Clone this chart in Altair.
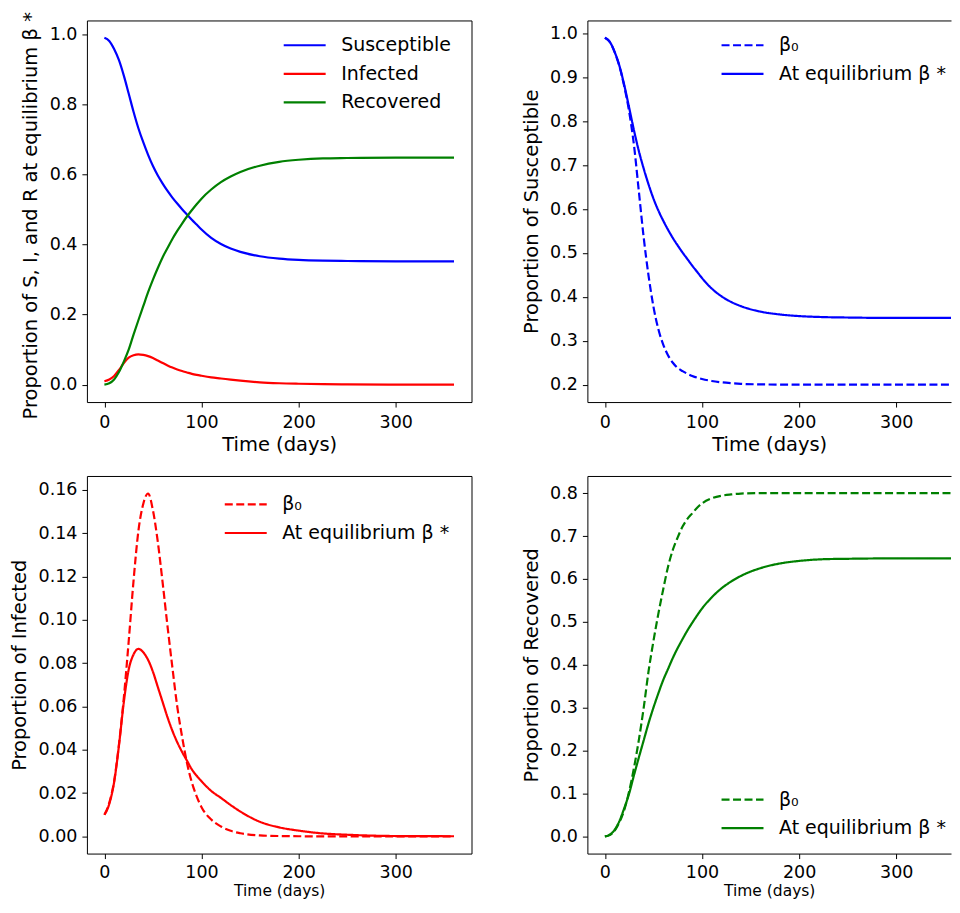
import altair as alt
import pandas as pd

FONT = "DejaVu Sans"
BLUE, RED, GREEN = "#0000ff", "#ff0000", "#008000"
LW = 2.2

# ---------------- data ----------------
t = [0, 5, 10, 15, 20, 25, 30, 35, 40, 45, 50, 55, 60, 65, 70, 75, 80, 85, 90, 95, 100,
     110, 120, 130, 140, 160, 180, 200, 225, 250, 300, 360]

s_eq = [.990, .981, .958, .926, .882, .831, .779, .732, .692, .656, .624, .597, .574, .553, .534,
        .517, .501, .486, .471, .457, .443, .419, .4015, .3885, .379, .3666, .360, .3563, .354,
        .353, .352, .352]
s_b0 = [.990, .981, .958, .925, .879, .822, .745, .640, .535, .448, .378, .327, .292, .267, .250,
        .238, .231, .225, .220, .216, .213, .2085, .2055, .2035, .202, .2008, .2003, .200, .200,
        .200, .200, .200]
i_eq = [.0100, .0150, .0250, .0420, .0620, .0770, .0840, .0866, .0850, .0815, .0760, .0690, .0620,
        .0550, .0488, .0435, .0390, .0350, .0310, .0280, .0255, .0210, .0178, .0145, .0115, .0068,
        .0042, .0027, .0014, .0008, .0002, .0001]
i_b0 = [.0100, .0155, .0255, .0425, .0640, .0900, .1180, .1410, .1535, .1583, .1505, .1360, .1170,
        .0970, .0780, .0600, .0460, .0340, .0250, .0185, .0135, .0078, .0046, .0026, .0015, .0005,
        .0002, .0001, 0.0, 0.0, 0.0, 0.0]
r_eq = [0.0, .004, .015, .036, .066, .100, .143, .184, .224, .264, .300, .333, .364, .390, .416,
        .439, .460, .480, .498, .515, .531, .557, .578, .594, .607, .625, .636, .642, .646, .647,
        .648, .648]
r_b0 = [0.0, .003, .013, .033, .062, .105, .160, .225, .300, .385, .455, .518, .575, .628, .668,
        .697, .722, .740, .753, .766, .776, .788, .794, .797, .799, .800, .800, .800, .800, .800,
        .800, .800]

sir_names = ["Susceptible", "Infected", "Recovered"]
LBL_B0 = "β₀"
LBL_EQ = "At equilibrium β *"
x_ticks = [0, 100, 200, 300]
y_ticks_sir = [0.0, 0.2, 0.4, 0.6, 0.8, 1.0]
y_ticks_s = [0.2, 0.3, 0.4, 0.5, 0.6, 0.7, 0.8, 0.9, 1.0]
y_ticks_i = [0.0, 0.02, 0.04, 0.06, 0.08, 0.10, 0.12, 0.14, 0.16]
y_ticks_r = [0.0, 0.1, 0.2, 0.3, 0.4, 0.5, 0.6, 0.7, 0.8]


def long_df(series):
    rows = []
    for name, vals in series:
        for tt, v in zip(t, vals):
            rows.append({"t": tt, "value": v, "series": name})
    return pd.DataFrame(rows)


X_FULL = [-18, 378]
X_CROP = [-18, 356.4]          # right-hand panels are cut off by the figure edge
W_FULL, W_CROP = 385, 364
H_TOP, H_BOT = 382, 378
SYM = "M-2,0L2,0"

TOP_ROW_X = dict(labelPadding=6, titlePadding=5, titleFontSize=19.5)
BOT_ROW_X = dict(labelPadding=5, titlePadding=2.3, titleFontSize=15.5)


def x_enc(domain, show_domain, style):
    return alt.X("t:Q", scale=alt.Scale(domain=domain, nice=False, zero=False),
                 axis=alt.Axis(values=x_ticks, format="d", title="Time (days)",
                               labelFlush=False, domain=show_domain, **style))


def y_enc(domain, ticks, fmt, title, show_domain, **extra):
    return alt.Y("value:Q", scale=alt.Scale(domain=domain, nice=False, zero=False),
                 axis=alt.Axis(values=ticks, format=fmt, title=title, domain=show_domain,
                               **extra))


def leg(x, y, stroke=None):
    kw = dict(title=None, orient="none", legendX=x, legendY=y, symbolType=SYM,
              symbolSize=441, symbolStrokeWidth=LW, labelFontSize=19, labelFont=FONT,
              labelColor="black", labelOffset=24.5, rowPadding=6.6, padding=0,
              labelLimit=400)
    if stroke:
        kw["symbolStrokeColor"] = stroke
    return alt.Legend(**kw)


def dash_enc(stroke, lx, ly):
    return alt.StrokeDash("series:N",
                          scale=alt.Scale(domain=[LBL_B0, LBL_EQ], range=[[8, 3.5], [1, 0]]),
                          legend=leg(lx, ly, stroke), sort=[LBL_B0, LBL_EQ])


def top_frame(domain, ext):
    return alt.Chart(pd.DataFrame({"t": [domain[0]]})).mark_point(opacity=0).encode(
        x=alt.X("t:Q", scale=alt.Scale(domain=domain, nice=False, zero=False),
                axis=alt.Axis(orient="top", labels=False, ticks=False, title=None,
                              domain=True, minExtent=ext, maxExtent=ext))
    )


# ---- top-left: S, I, R at equilibrium
tl_df = long_df([("Susceptible", s_eq), ("Infected", i_eq), ("Recovered", r_eq)])
tl = alt.Chart(tl_df).mark_line(strokeWidth=LW, interpolate="monotone").encode(
    x=x_enc(X_FULL, False, TOP_ROW_X),
    y=y_enc([-0.0495, 1.0395], y_ticks_sir, ".1f",
            "Proportion of S, I, and R at equilibrium β *", False, titleY=195),
    color=alt.Color("series:N", sort=sir_names,
                    scale=alt.Scale(domain=sir_names, range=[BLUE, RED, GREEN]),
                    legend=leg(206, 12.8)),
).properties(width=W_FULL, height=H_TOP)

# ---- top-right: Susceptible
tr_df = long_df([(LBL_B0, s_b0), (LBL_EQ, s_eq)])
tr_lines = alt.Chart(tr_df).mark_line(strokeWidth=LW, interpolate="monotone", color=BLUE,
                                      clip=True).encode(
    x=x_enc(X_CROP, True, TOP_ROW_X),
    y=y_enc([0.1605, 1.0295], y_ticks_s, ".1f", "Proportion of Susceptible", True),
    strokeDash=dash_enc(BLUE, 143.3, 12.8),
)
tr = alt.layer(tr_lines, top_frame(X_CROP, 11)).resolve_axis(x="independent").properties(
    width=W_CROP, height=H_TOP, view=alt.ViewBackground(stroke="transparent"))

# ---- bottom-left: Infected
bl_df = long_df([(LBL_B0, i_b0), (LBL_EQ, i_eq)])
bl = alt.Chart(bl_df).mark_line(strokeWidth=LW, interpolate="monotone", color=RED).encode(
    x=x_enc(X_FULL, False, BOT_ROW_X),
    y=y_enc([-0.0079, 0.1664], y_ticks_i, ".2f", "Proportion of Infected", False),
    strokeDash=dash_enc(RED, 147, 16.5),
).properties(width=W_FULL, height=H_BOT)

# ---- bottom-right: Recovered
br_df = long_df([(LBL_B0, r_b0), (LBL_EQ, r_eq)])
br_lines = alt.Chart(br_df).mark_line(strokeWidth=LW, interpolate="monotone", color=GREEN,
                                      clip=True).encode(
    x=x_enc(X_CROP, True, BOT_ROW_X),
    y=y_enc([-0.04, 0.84], y_ticks_r, ".1f", "Proportion of Recovered", True),
    strokeDash=dash_enc(GREEN, 143.3, 312),
)
br = alt.layer(br_lines, top_frame(X_CROP, 0)).resolve_axis(x="independent").properties(
    width=W_CROP, height=H_BOT, view=alt.ViewBackground(stroke="transparent"))

chart = alt.concat(
    tl, tr, bl, br, columns=2,
    spacing={"row": 20, "column": 48},
    padding={"left": 1, "top": 0, "right": 0, "bottom": 0},
).resolve_scale(
    color="independent", strokeDash="independent"
).resolve_legend(
    color="independent", strokeDash="independent"
).configure(
    font=FONT
).configure_axis(
    labelFont=FONT, titleFont=FONT, labelFontSize=17.5, titleFontSize=19.5,
    titleFontWeight="normal", labelColor="black", titleColor="black",
    tickColor="black", domainColor="black", tickSize=5, tickWidth=1, domainWidth=1,
    grid=False,
).configure_axisY(
    labelPadding=5, titlePadding=8.5
).configure_view(
    stroke="black", strokeWidth=1
).configure_legend(
    labelFont=FONT, labelFontSize=19, labelColor="black"
)

chart.save("out.html", embed_options={"renderer": "svg", "actions": False})
